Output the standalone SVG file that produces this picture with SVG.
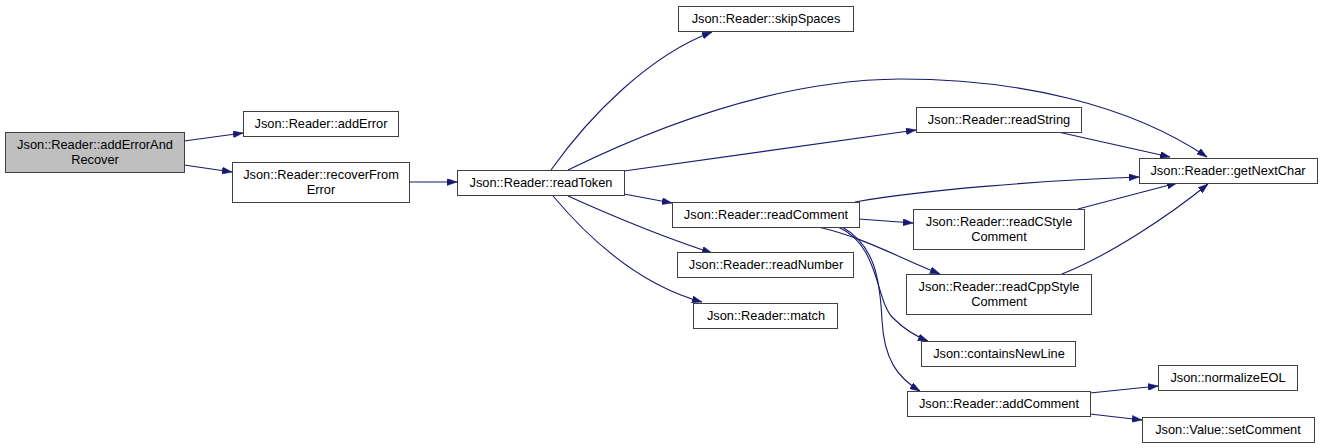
<svg xmlns="http://www.w3.org/2000/svg" width="1323" height="448" viewBox="0 0 1323 448">
<style>
.n rect{fill:#ffffff;stroke:#404040;stroke-width:1}
.n.root rect{fill:#bfbfbf}
.n text{font-family:"Liberation Sans",Arial,sans-serif;font-size:12.8px;fill:#000000;text-anchor:middle}
.e path{fill:none;stroke:#191970;stroke-width:1.1;marker-end:url(#ah)}
</style>
<defs>
<marker id="ah" viewBox="0 0 10 7" refX="10" refY="3.5" markerWidth="10" markerHeight="7" markerUnits="userSpaceOnUse" orient="auto">
<path d="M0,0 L10,3.5 L0,7 Z" fill="#191970" stroke="#191970" stroke-width="0.5"/>
</marker>
</defs>
<rect width="1323" height="448" fill="#ffffff"/>
<g id="edges" class="e">
<path d="M184,141 L243,133"/>
<path d="M184,165 L232,172"/>
<path d="M409,182 L457,182"/>
<path d="M551,170 C590,115 650,55 712,32"/>
<path d="M568,170 C660,125 780,80 900,79 C1020,79 1130,105 1207,157"/>
<path d="M624,171 L916,130"/>
<path d="M624,194 L672,203"/>
<path d="M568,196 C610,215 660,236 712,253"/>
<path d="M553,196 C590,240 640,285 702,302"/>
<path d="M855,202 C920,190 1050,180 1139,177"/>
<path d="M859,219 L913,223"/>
<path d="M818,227 C860,236 900,258 940,274"/>
<path d="M838,227 C880,245 875,300 893,318 C905,330 915,336 928,341"/>
<path d="M842,227 C875,245 880,280 882,320 C884,360 898,378 920,391"/>
<path d="M1058,132 L1170,157"/>
<path d="M1078,209 L1177,183"/>
<path d="M1062,274 C1110,255 1170,215 1208,184"/>
<path d="M1090,393 L1158,386"/>
<path d="M1090,414 L1142,420"/>
</g>
<g id="addErrorAndRecover" class="n root"><rect x="5.5" y="132.5" width="179" height="40"/><text x="95" y="149">Json::Reader::addErrorAnd</text><text x="95" y="164">Recover</text></g>
<g id="addError" class="n"><rect x="243.5" y="111.5" width="155" height="25"/><text x="321" y="128">Json::Reader::addError</text></g>
<g id="recoverFromError" class="n"><rect x="232.5" y="162.5" width="177" height="40"/><text x="321" y="179">Json::Reader::recoverFrom</text><text x="321" y="194">Error</text></g>
<g id="readToken" class="n"><rect x="457.5" y="170.5" width="167" height="25"/><text x="541" y="187">Json::Reader::readToken</text></g>
<g id="skipSpaces" class="n"><rect x="678.5" y="6.5" width="175" height="25"/><text x="766" y="23">Json::Reader::skipSpaces</text></g>
<g id="readString" class="n"><rect x="916.5" y="107.5" width="165" height="25"/><text x="999" y="124">Json::Reader::readString</text></g>
<g id="getNextChar" class="n"><rect x="1139.5" y="158.5" width="178" height="25"/><text x="1228" y="175">Json::Reader::getNextChar</text></g>
<g id="readComment" class="n"><rect x="672.5" y="202.5" width="187" height="25"/><text x="766" y="219">Json::Reader::readComment</text></g>
<g id="readCStyleComment" class="n"><rect x="913.5" y="209.5" width="171" height="40"/><text x="999" y="226">Json::Reader::readCStyle</text><text x="999" y="241">Comment</text></g>
<g id="readNumber" class="n"><rect x="677.5" y="252.5" width="176" height="25"/><text x="766" y="269">Json::Reader::readNumber</text></g>
<g id="readCppStyleComment" class="n"><rect x="906.5" y="274.5" width="185" height="40"/><text x="999" y="291">Json::Reader::readCppStyle</text><text x="999" y="306">Comment</text></g>
<g id="match" class="n"><rect x="693.5" y="303.5" width="144" height="25"/><text x="766" y="320">Json::Reader::match</text></g>
<g id="containsNewLine" class="n"><rect x="921.5" y="341.5" width="154" height="25"/><text x="999" y="358">Json::containsNewLine</text></g>
<g id="addComment" class="n"><rect x="907.5" y="391.5" width="183" height="25"/><text x="999" y="408">Json::Reader::addComment</text></g>
<g id="normalizeEOL" class="n"><rect x="1158.5" y="365.5" width="139" height="25"/><text x="1228" y="382">Json::normalizeEOL</text></g>
<g id="setComment" class="n"><rect x="1142.5" y="417.5" width="172" height="25"/><text x="1228" y="434">Json::Value::setComment</text></g>
</svg>
